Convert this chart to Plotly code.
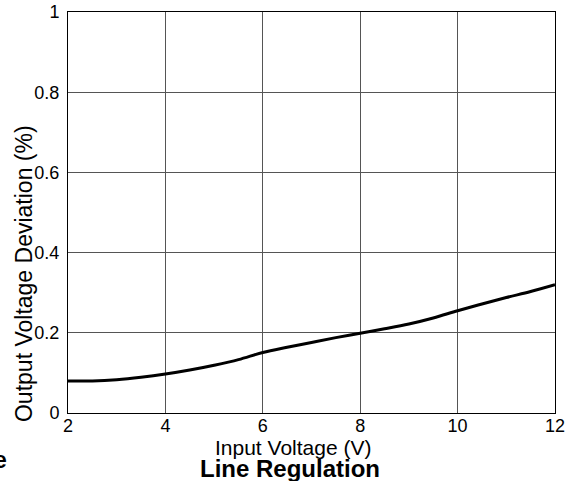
import plotly.graph_objects as go

vin = [2, 2.5, 3, 3.5, 4, 4.5, 5, 5.5, 6, 6.5, 7, 7.5, 8, 8.5, 9, 9.5, 10, 10.5, 11, 11.5, 12]
dev = [0.080, 0.080, 0.083, 0.089, 0.097, 0.107, 0.119, 0.133, 0.151, 0.164, 0.176, 0.188, 0.199, 0.210, 0.222, 0.237, 0.255, 0.272, 0.288, 0.303, 0.320]
x_ticks = [2, 4, 6, 8, 10, 12]
y_ticks = [0, 0.2, 0.4, 0.6, 0.8, 1]
y_tick_labels = ["0", "0.2", "0.4", "0.6", "0.8", "1"]

FONT = "Liberation Sans, Arial, sans-serif"

fig = go.Figure()
fig.add_trace(go.Scatter(x=vin, y=dev, mode="lines", line=dict(color="black", width=3, shape="spline"),
                         showlegend=False, hoverinfo="skip"))

fig.update_layout(
    width=581, height=481,
    margin=dict(l=68, r=26, t=12, b=68, autoexpand=False),
    paper_bgcolor="white", plot_bgcolor="white",
    font=dict(family=FONT, size=18, color="black"),
    xaxis=dict(range=[2, 12], tickvals=x_ticks, showgrid=True, gridcolor="#555", gridwidth=1,
               showline=True, linecolor="black", linewidth=1, mirror=True, ticks="",
               zeroline=False, tickfont=dict(size=18), automargin=False, ticklabelstandoff=-4),
    yaxis=dict(range=[0, 1], tickvals=y_ticks, ticktext=y_tick_labels, showgrid=True,
               gridcolor="#555", gridwidth=1, showline=True, linecolor="black", linewidth=1,
               mirror=True, ticks="", zeroline=False, tickfont=dict(size=18), ticklabelstandoff=4,
               automargin=False),
    annotations=[
        dict(text="Input Voltage (V)", xref="paper", yref="paper", x=0.462, y=-0.085,
             xanchor="center", yanchor="middle", showarrow=False, font=dict(size=21)),
        dict(text="<b>Line Regulation</b>", xref="paper", yref="paper", x=0.456, y=-0.138,
             xanchor="center", yanchor="middle", showarrow=False, font=dict(size=24)),
        dict(text="Output Voltage Deviation (%)", xref="paper", yref="paper", x=-0.09, y=0.347,
             textangle=-90, showarrow=False, font=dict(size=23), xanchor="center", yanchor="middle"),
        dict(text="<b>e</b>", xref="paper", yref="paper", x=-0.121, y=-0.117, yanchor="middle",
             xanchor="right", showarrow=False, font=dict(size=23)),
    ],
)

fig.write_html("out.html", config={"displayModeBar": False},
               post_script="document.body.style.margin='0';document.body.style.overflow='hidden';")
